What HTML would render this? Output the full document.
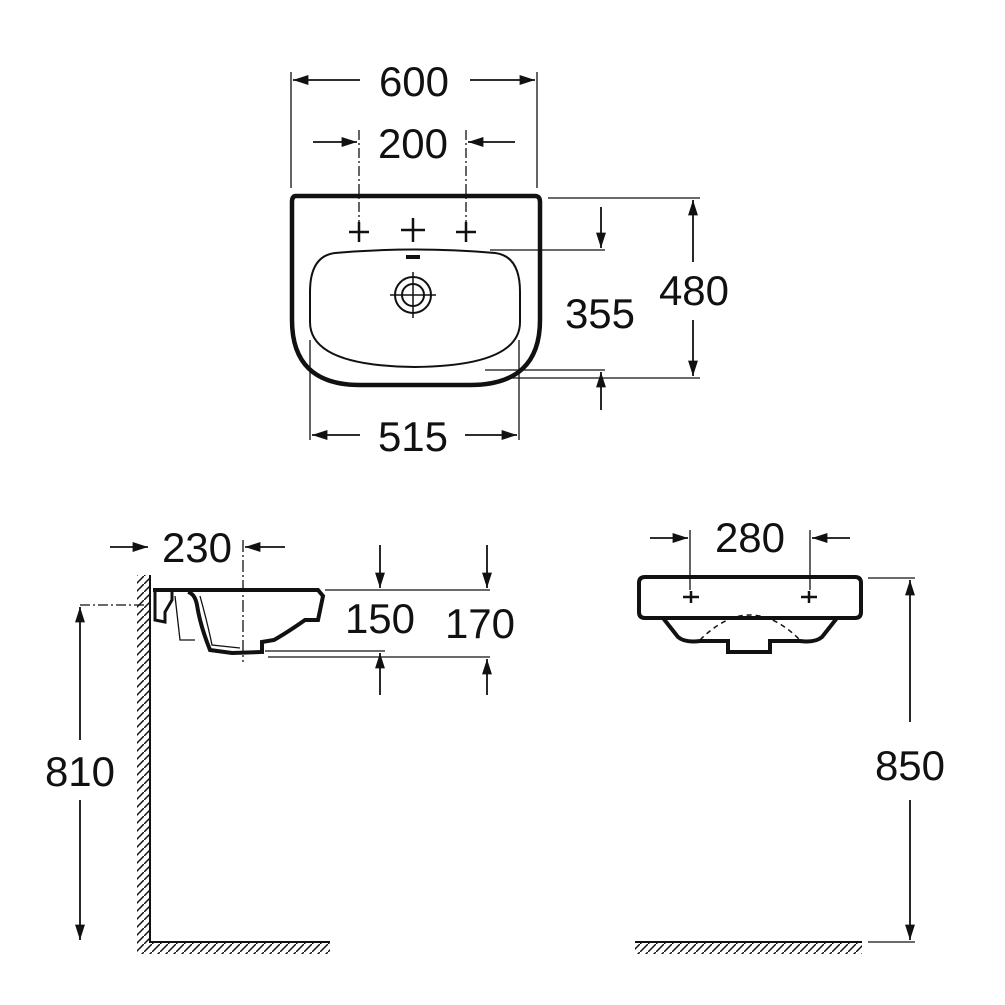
<!DOCTYPE html>
<html><head><meta charset="utf-8"><style>body{margin:0;background:#fff}svg{display:block}text{font-family:"Liberation Sans",Arial,sans-serif;font-size:42px;fill:#111;text-anchor:middle}</style></head><body>
<svg width="1005" height="1005" viewBox="0 0 1005 1005" xmlns="http://www.w3.org/2000/svg">
<defs>
<marker id="a" viewBox="0 0 14 10" refX="14" refY="5" markerWidth="16" markerHeight="11" markerUnits="userSpaceOnUse" orient="auto-start-reverse"><path d="M0 0.5 L14 5 L0 9.5 Z" fill="#111"/></marker>
<pattern id="h" width="8" height="8" patternUnits="userSpaceOnUse"><path d="M0 8 L8 0" stroke="#111" stroke-width="1.5"/></pattern>
</defs>
<g fill="none" stroke="#111">
<path d="M296 196 H535 Q540 196 540 202 V320 Q540 385 470 385 H360 Q292 385 292 320 V202 Q292 196 296 196 Z" stroke-width="4.5"/>
<path d="M335 253 Q415 246 495 253 Q520 256 520 292 V322 Q520 366 415 367 Q310 366 310 322 V292 Q310 256 335 253 Z" stroke-width="2"/>
<circle cx="413" cy="295" r="18" stroke-width="2"/><circle cx="413" cy="295" r="11" stroke-width="2"/>
<path d="M390 295 H436 M413 272 V318" stroke-width="1.5"/>
<path d="M406 257 H420" stroke-width="4"/>
<g stroke-width="2.5">
<path d="M349 232 H369 M359 222 V242"/><path d="M401 230 H425 M413 218 V242"/><path d="M456 232 H476 M466 222 V242"/>
</g>
<g stroke-width="1.3">
<path d="M291 72 V188 M537 72 V188"/>
<path d="M359 130 V225" stroke-dasharray="10 3 2 3"/><path d="M466 130 V225" stroke-dasharray="10 3 2 3"/>
<path d="M548 198 H700 M508 378 H700 M490 250 H605 M485 370 H605"/>
<path d="M310 340 V440 M519 340 V440"/>
</g>
<g stroke-width="1.8">
<path d="M360 80 H293" marker-end="url(#a)"/><path d="M470 80 H535" marker-end="url(#a)"/>
<path d="M313 142 H357" marker-end="url(#a)"/><path d="M515 142 H468" marker-end="url(#a)"/>
<path d="M693 262 V200" marker-end="url(#a)"/><path d="M693 320 V376" marker-end="url(#a)"/>
<path d="M601 207 V248" marker-end="url(#a)"/><path d="M601 410 V372" marker-end="url(#a)"/>
<path d="M360 435 H312" marker-end="url(#a)"/><path d="M465 435 H517" marker-end="url(#a)"/>
</g>
<rect x="137" y="575" width="13" height="367" fill="url(#h)" stroke="none"/>
<rect x="137" y="942" width="193" height="12" fill="url(#h)" stroke="none"/>
<path d="M150 575 V942 H330" stroke-width="2"/>
<path d="M153 590 H318 L323 596 L318 620 L305 620 Q288 632 274 640 L262 642 L262 652 L232 653 L210 650 Q200 625 197 605 Q195 594 188 592" stroke-width="4"/>
<path d="M155 592 V620 L165 622 V612 L172 600 V592" stroke-width="3"/>
<path d="M175 596 L180 640 H195" stroke-width="1.3"/>
<path d="M200 596 Q208 625 212 645 L240 648" stroke-width="1.3"/>
<g stroke-width="1.3">
<path d="M243 540 V662" stroke-dasharray="12 3 2 3"/>
<path d="M80 605 H145" stroke-dasharray="10 3 2 3"/>
<path d="M325 590 H490 M265 651 H385 M268 657 H490"/>
</g>
<g stroke-width="1.8">
<path d="M110 547 H148" marker-end="url(#a)"/><path d="M285 547 H245" marker-end="url(#a)"/>
<path d="M80 740 V607" marker-end="url(#a)"/><path d="M80 800 V940" marker-end="url(#a)"/>
<path d="M380 545 V588" marker-end="url(#a)"/><path d="M380 695 V653" marker-end="url(#a)"/>
<path d="M487 545 V588" marker-end="url(#a)"/><path d="M487 695 V659" marker-end="url(#a)"/>
</g>
<path d="M645 577 H855 Q861 577 861 583 V612 Q861 618 855 618 H645 Q639 618 639 612 V583 Q639 577 645 577 Z" stroke-width="4"/>
<path d="M663 618 L678 637 Q685 643 700 641 L728 641 V652 H770 V641 L800 641 Q815 643 822 637 L837 618" stroke-width="4"/>
<path d="M700 640 Q750 590 800 640" stroke-width="1.5" stroke-dasharray="5 4"/>
<path d="M683 597 H699 M801 597 H817 M691 591 V603 M809 591 V603" stroke-width="2.5"/>
<g stroke-width="1.3"><path d="M690 530 V590 M810 530 V590 M868 578 H915 M868 942 H915"/></g>
<rect x="635" y="942" width="227" height="12" fill="url(#h)" stroke="none"/>
<path d="M635 942 H862" stroke-width="2"/>
<g stroke-width="1.8">
<path d="M650 538 H688" marker-end="url(#a)"/><path d="M850 538 H812" marker-end="url(#a)"/>
<path d="M910 722 V580" marker-end="url(#a)"/><path d="M910 800 V940" marker-end="url(#a)"/>
</g>
</g>
<text x="414" y="96">600</text>
<text x="413" y="158">200</text>
<text x="694" y="305">480</text>
<text x="600" y="328">355</text>
<text x="413" y="451">515</text>
<text x="197" y="562" font-size="38">230</text>
<text x="380" y="633" font-size="38">150</text>
<text x="480" y="638" font-size="38">170</text>
<text x="80" y="786" font-size="38">810</text>
<text x="750" y="552" font-size="38">280</text>
<text x="910" y="780" font-size="38">850</text>
</svg>
</body></html>
